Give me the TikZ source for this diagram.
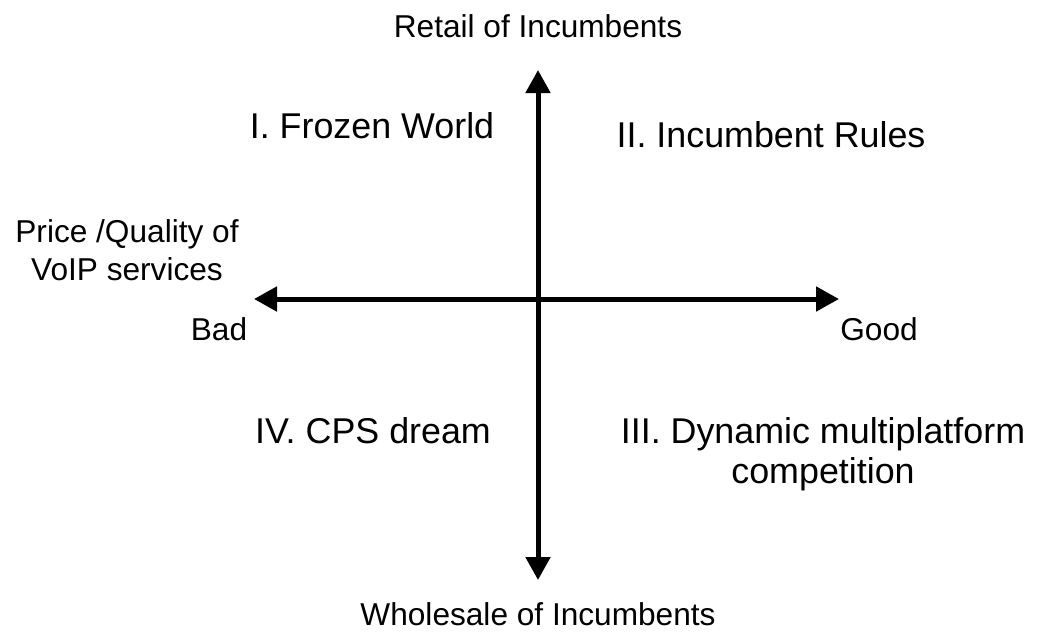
\documentclass[tikz,border=0pt]{standalone}
\usepackage{fontspec}
\setmainfont{Liberation Sans}
\usetikzlibrary{arrows.meta}
\begin{document}
\begin{tikzpicture}[x=0.02cm,y=-0.02cm,
  axis/.style={line width=0.1cm, {Triangle[width=0.48cm,length=0.46cm]}-{Triangle[width=0.48cm,length=0.46cm]}},
  small/.style={font=\fontsize{18pt}{21pt}\selectfont, anchor=base, inner sep=0pt},
  big/.style={font=\fontsize{20.4pt}{23pt}\selectfont, anchor=base, inner sep=0pt, align=center}]
\useasboundingbox (0,0) rectangle (1043,637);
% axis end points
\coordinate (top) at (538,70);
\coordinate (bottom) at (538,580);
\coordinate (left) at (254,299);
\coordinate (right) at (839,299);
\draw[axis] (bottom) -- (top);
\draw[axis] (left) -- (right);
% axis labels
\node[small] (retail) at (538,37) {Retail of Incumbents};
\node[small] (wholesale) at (538,625) {Wholesale of Incumbents};
\node[small] (pq1) at (127,242) {Price /Quality of};
\node[small] (pq2) at (127,280) {VoIP services};
\node[small] (bad) at (219,340) {Bad};
\node[small] (good) at (879,340) {Good};
% quadrant labels
\node[big] (q1) at (372,138) {I. Frozen World};
\node[big] (q2) at (771,147) {II. Incumbent Rules};
\node[big] (q4) at (373,443) {IV. CPS dream};
\node[big] (q3a) at (823,443) {III. Dynamic multiplatform};
\node[big] (q3b) at (823,483) {competition};
\end{tikzpicture}
\end{document}
